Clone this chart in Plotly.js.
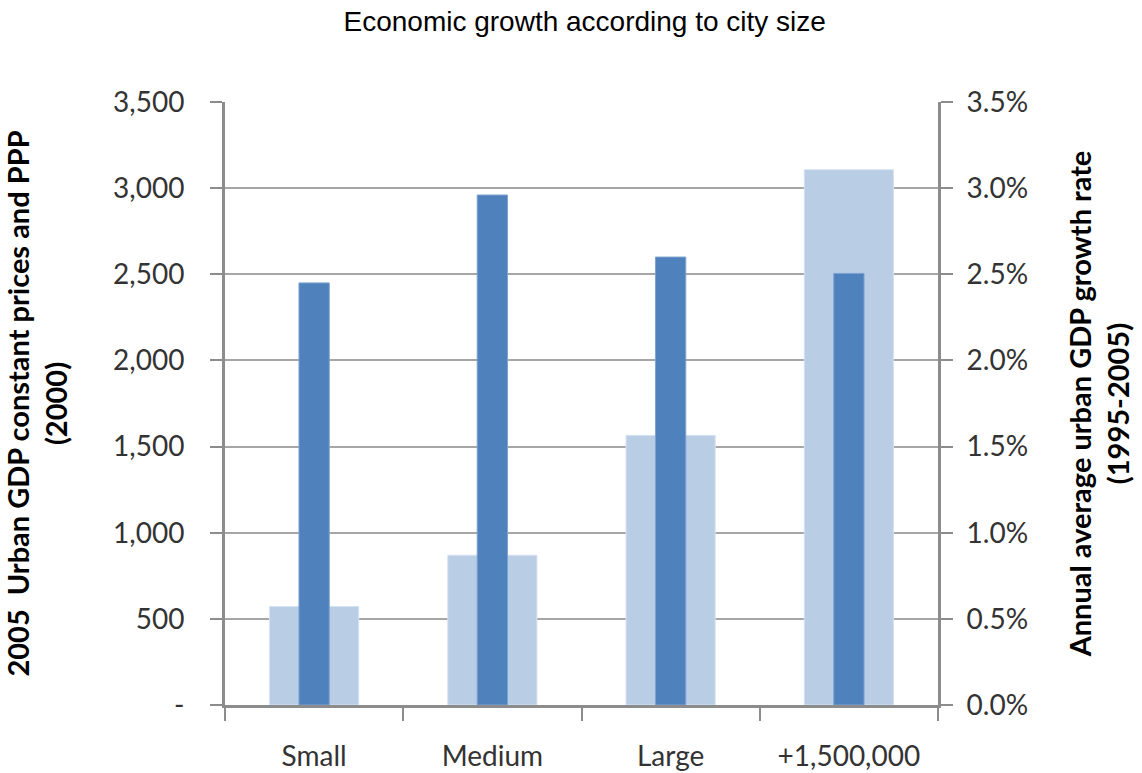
<!DOCTYPE html>
<html>
<head>
<meta charset="utf-8">
<script src="https://cdn.plot.ly/plotly-3.0.1.min.js"></script>
<style>html,body{margin:0;padding:0;background:#fff;}#chart{width:1142px;height:773px;}</style>
</head>
<body>
<div id="chart"></div>
<script>
const categories = ["Small", "Medium", "Large", "+1,500,000"];
const gdpValues = [572, 869, 1565, 3107];          // left axis
const growthRates = [2.45, 2.96, 2.60, 2.505];      // right axis, percent
const leftTickVals = [0, 500, 1000, 1500, 2000, 2500, 3000, 3500];
const leftTickText = ["-", "500", "1,000", "1,500", "2,000", "2,500", "3,000", "3,500"];
const rightTickVals = [0, 0.5, 1.0, 1.5, 2.0, 2.5, 3.0, 3.5];
const rightTickText = ["0.0%", "0.5%", "1.0%", "1.5%", "2.0%", "2.5%", "3.0%", "3.5%"];

const tickFont = {family: "Lato, 'Open Sans', sans-serif", size: 28, color: "#333"};
const titleFont = {family: "Lato, 'Open Sans', sans-serif", size: 29, color: "#000", weight: "bold"};

const traces = [
  {
    type: "bar", x: categories, y: gdpValues, yaxis: "y", width: 0.5,
    marker: {color: "#B9CDE5", line: {color: "#D6E2F0", width: 1}},
    name: "2005 Urban GDP", hoverinfo: "x+y"
  },
  {
    type: "bar", x: categories, y: growthRates, yaxis: "y2", width: 0.17,
    marker: {color: "#4F81BD", line: {color: "#7FA3D0", width: 1}},
    name: "Growth rate", hoverinfo: "x+y"
  }
];

const layout = {
  width: 1142, height: 773,
  margin: {l: 225, r: 202, t: 102, b: 68},
  paper_bgcolor: "#fff", plot_bgcolor: "#fff",
  showlegend: false,
  barmode: "overlay",
  title: {text: "Economic growth according to city size", x: 0.512, xanchor: "center", y: 0.972, yanchor: "middle",
          font: {family: "'Liberation Sans', Arial, sans-serif", size: 28, color: "#000"}},
  xaxis: {
    type: "category", tickfont: tickFont,
    showline: true, linecolor: "#8c8c8c", linewidth: 3,
    ticks: "outside", tickson: "boundaries", ticklen: 13, tickwidth: 2, tickcolor: "#8c8c8c",
    ticklabelstandoff: 24,
    showgrid: false, zeroline: false, range: [-0.5, 3.5], fixedrange: true
  },
  yaxis: {
    range: [0, 3500], tickvals: leftTickVals, ticktext: leftTickText, tickfont: tickFont,
    showline: true, linecolor: "#8c8c8c", linewidth: 3,
    ticks: "outside", ticklen: 12, tickwidth: 2, tickcolor: "#8c8c8c",
    ticklabelstandoff: 20,
    showgrid: true, gridcolor: "#a6a6a6", gridwidth: 2, zeroline: false,
    title: {text: "2005  Urban GDP constant prices and PPP<br>(2000)", font: titleFont, standoff: 40},
    automargin: true
  },
  yaxis2: {
    overlaying: "y", side: "right",
    range: [0, 3.5], tickvals: rightTickVals, ticktext: rightTickText, tickfont: tickFont,
    showline: true, linecolor: "#8c8c8c", linewidth: 3,
    ticks: "outside", ticklen: 12, tickwidth: 2, tickcolor: "#8c8c8c",
    ticklabelstandoff: 8,
    showgrid: false, zeroline: false,
    title: {text: "Annual average urban GDP growth rate<br>(1995-2005)", font: titleFont, standoff: 44},
    automargin: true
  }
};

Plotly.newPlot("chart", traces, layout, {displayModeBar: false, staticPlot: true});
</script>
</body>
</html>
